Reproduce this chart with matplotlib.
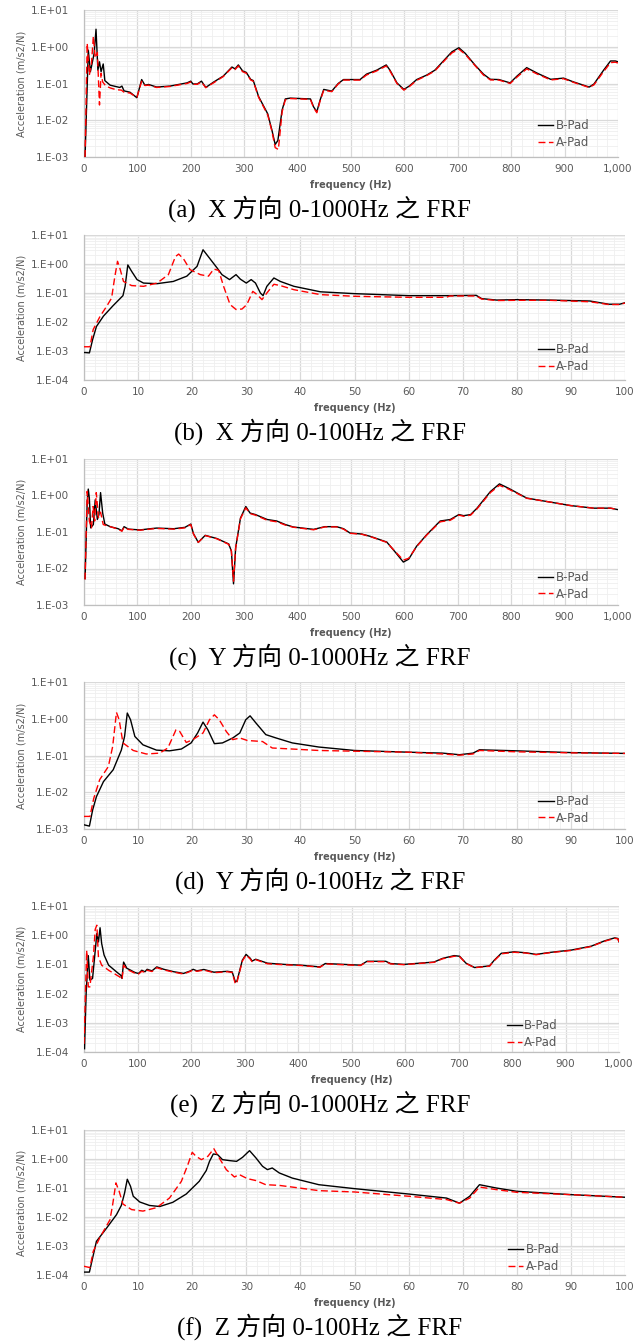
import math

import matplotlib
matplotlib.use("Agg")
import matplotlib.pyplot as plt
from matplotlib.ticker import MultipleLocator, LogLocator, FuncFormatter, NullFormatter

# ---- data (frequency in Hz, acceleration in m/s2/N) ----

# (a) X direction, 0-1000 Hz
a_f_bpad = [2, 8, 12, 19, 22.5, 26, 29, 32, 36, 39,
            49, 67, 71, 75, 86, 99, 108, 114, 121, 136,
            161, 193, 200, 204, 212, 220, 228, 243, 261, 277,
            283, 289, 297, 304, 312, 317, 327, 344, 352, 358,
            363, 371, 377, 386, 424, 430, 436, 442, 449, 464,
            476, 486, 517, 529, 548, 566, 573, 586, 599, 609,
            623, 642, 657, 673, 689, 702, 714, 732, 748, 761,
            777, 798, 811, 829, 849, 874, 898, 917, 946, 955,
            973, 986, 995, 1000]
a_v_bpad = [0.001, 0.81, 0.21, 0.66, 3.0, 0.23, 0.39, 0.21, 0.34, 0.12,
            0.09, 0.078, 0.085, 0.063, 0.058, 0.041, 0.128, 0.09, 0.094, 0.08,
            0.085, 0.104, 0.116, 0.097, 0.097, 0.116, 0.078, 0.11, 0.16, 0.28,
            0.25, 0.32, 0.22, 0.2, 0.13, 0.12, 0.044, 0.015, 0.0053, 0.0022,
            0.0028, 0.019, 0.038, 0.04, 0.038, 0.023, 0.017, 0.035, 0.069, 0.062,
            0.1, 0.128, 0.128, 0.18, 0.23, 0.32, 0.23, 0.104, 0.069, 0.085,
            0.128, 0.17, 0.23, 0.41, 0.73, 0.94, 0.66, 0.32, 0.18, 0.13,
            0.128, 0.104, 0.16, 0.27, 0.19, 0.13, 0.14, 0.11, 0.08, 0.097,
            0.23, 0.41, 0.41, 0.39]
a_f_apad = [2, 6, 10, 14, 17.5, 21, 25, 29, 32, 35,
            41, 50, 60, 70, 75, 86, 99, 108, 114, 121,
            136, 161, 193, 200, 204, 212, 220, 228, 243, 261,
            277, 283, 289, 297, 304, 312, 317, 327, 344, 352,
            358, 364, 371, 377, 386, 424, 430, 436, 442, 449,
            464, 476, 486, 517, 529, 548, 566, 573, 586, 599,
            609, 623, 642, 657, 673, 689, 702, 714, 732, 748,
            761, 777, 798, 811, 829, 849, 874, 898, 917, 946,
            955, 973, 986, 995, 1000]
a_v_apad = [0.001, 1.25, 0.17, 0.35, 1.9, 0.5, 0.7, 0.026, 0.19, 0.11,
            0.085, 0.075, 0.068, 0.066, 0.058, 0.055, 0.042, 0.115, 0.088, 0.09,
            0.078, 0.083, 0.1, 0.11, 0.095, 0.095, 0.11, 0.077, 0.105, 0.155,
            0.27, 0.24, 0.3, 0.21, 0.19, 0.125, 0.115, 0.042, 0.014, 0.005,
            0.0018, 0.0016, 0.017, 0.036, 0.039, 0.037, 0.022, 0.016, 0.033, 0.066,
            0.06, 0.097, 0.124, 0.124, 0.17, 0.22, 0.3, 0.22, 0.1, 0.066,
            0.082, 0.122, 0.165, 0.22, 0.39, 0.68, 0.86, 0.62, 0.31, 0.17,
            0.125, 0.124, 0.1, 0.15, 0.25, 0.18, 0.125, 0.135, 0.107, 0.078,
            0.092, 0.21, 0.37, 0.38, 0.36]

# (b) X direction, 0-100 Hz
b_f_bpad = [0, 1.0, 1.6, 2.3, 3.6, 5.4, 7.2, 7.6, 8.1, 8.8,
            9.8, 11, 13.5, 16.5, 19, 20.9, 22, 22.7, 24.6, 25.5,
            26.9, 28.1, 28.9, 30, 30.9, 31.7, 32.6, 33.1, 33.8, 35.1,
            36.3, 38.8, 43.7, 50, 60, 67, 72.5, 73.5, 76.3, 80,
            86, 93.5, 97, 99, 100]
b_v_bpad = [0.00089, 0.00086, 0.0025, 0.007, 0.016, 0.037, 0.081, 0.17, 0.93, 0.56,
            0.29, 0.22, 0.21, 0.25, 0.38, 0.83, 3.1, 2.1, 0.73, 0.43,
            0.29, 0.43, 0.3, 0.22, 0.29, 0.22, 0.1, 0.081, 0.17, 0.33,
            0.25, 0.17, 0.11, 0.095, 0.081, 0.081, 0.083, 0.064, 0.057, 0.059,
            0.057, 0.053, 0.041, 0.041, 0.046]
b_f_apad = [0, 1.1, 1.7, 3.0, 4.2, 5.1, 5.7, 6.2, 6.7, 7.3,
            8.8, 11, 13.5, 15.6, 16.9, 17.5, 18.4, 19.6, 21.5, 23,
            24, 24.9, 25.8, 27, 28.1, 29.2, 30.1, 31.2, 32, 32.9,
            33.8, 35.1, 36.3, 38.8, 43.7, 50, 60, 67, 67.6, 72.5,
            73.5, 76.3, 80, 86, 93.5, 97, 99, 100]
b_v_apad = [0.0014, 0.0014, 0.0055, 0.016, 0.035, 0.067, 0.37, 1.24, 0.64, 0.25,
            0.18, 0.17, 0.22, 0.43, 1.8, 2.2, 1.5, 0.64, 0.43, 0.38,
            0.67, 0.6, 0.17, 0.04, 0.027, 0.028, 0.04, 0.114, 0.088, 0.059,
            0.1, 0.2, 0.18, 0.13, 0.088, 0.077, 0.071, 0.071, 0.079, 0.079,
            0.062, 0.055, 0.056, 0.056, 0.05, 0.04, 0.04, 0.045]

# (c) Y direction, 0-1000 Hz
c_f_bpad = [2, 6, 8, 10, 12.5, 17.5, 21, 25, 28, 31,
            35, 39, 49, 64, 71, 75, 83, 105, 124, 136,
            168, 189, 200, 205, 214, 227, 249, 271, 276, 280,
            284, 293, 303, 311, 321, 343, 361, 377, 392, 430,
            451, 473, 486, 498, 520, 536, 567, 583, 598, 608,
            623, 642, 667, 686, 702, 711, 724, 736, 761, 778,
            795, 829, 873, 911, 954, 986, 1000]
c_v_bpad = [0.0053, 0.69, 1.5, 0.85, 0.13, 0.16, 0.76, 0.22, 0.3, 1.2,
            0.33, 0.165, 0.14, 0.123, 0.108, 0.14, 0.12, 0.114, 0.123, 0.128,
            0.123, 0.134, 0.165, 0.09, 0.052, 0.081, 0.066, 0.047, 0.03, 0.0038,
            0.037, 0.24, 0.5, 0.33, 0.3, 0.22, 0.2, 0.16, 0.137, 0.118,
            0.14, 0.14, 0.123, 0.094, 0.088, 0.076, 0.053, 0.028, 0.015, 0.018,
            0.041, 0.085, 0.2, 0.22, 0.3, 0.28, 0.3, 0.45, 1.28, 2.08,
            1.58, 0.85, 0.66, 0.53, 0.45, 0.45, 0.41]
c_f_apad = [2, 6, 10, 14, 17, 20, 23, 27, 31, 36,
            42, 49, 64, 71, 75, 83, 105, 124, 136, 168,
            189, 200, 205, 214, 227, 249, 271, 276, 280, 284,
            293, 303, 311, 321, 343, 361, 377, 392, 430, 451,
            473, 486, 498, 520, 536, 567, 583, 598, 608, 623,
            642, 667, 686, 702, 711, 724, 736, 761, 778, 795,
            829, 873, 911, 954, 986, 1000]
c_v_apad = [0.005, 1.3, 0.2, 0.13, 0.5, 0.2, 1.2, 0.25, 0.35, 0.16,
            0.15, 0.14, 0.12, 0.105, 0.135, 0.118, 0.112, 0.12, 0.125, 0.12,
            0.13, 0.16, 0.088, 0.052, 0.08, 0.065, 0.046, 0.03, 0.0045, 0.036,
            0.23, 0.46, 0.32, 0.29, 0.21, 0.19, 0.155, 0.135, 0.115, 0.138,
            0.138, 0.12, 0.092, 0.087, 0.075, 0.052, 0.029, 0.017, 0.019, 0.04,
            0.083, 0.19, 0.21, 0.29, 0.27, 0.29, 0.43, 1.2, 1.9, 1.5,
            0.84, 0.66, 0.53, 0.45, 0.45, 0.41]

# (d) Y direction, 0-100 Hz
d_f_bpad = [0, 1.0, 1.6, 2.3, 3.6, 5.4, 6.9, 7.5, 8.0, 8.6,
            9.4, 10.9, 13.4, 15.8, 18, 19.8, 21, 22, 22.9, 24.1,
            25.6, 27.5, 28.8, 29.9, 30.7, 31.8, 33.6, 35.5, 38.5, 43.4,
            50, 60, 66.3, 69.4, 71.9, 73.1, 80, 90, 100]
d_v_bpad = [0.0013, 0.0012, 0.0033, 0.0076, 0.0195, 0.041, 0.14, 0.33, 1.43, 0.94,
            0.33, 0.195, 0.14, 0.134, 0.15, 0.22, 0.41, 0.81, 0.5, 0.21,
            0.22, 0.3, 0.41, 0.94, 1.2, 0.76, 0.37, 0.3, 0.22, 0.17,
            0.137, 0.123, 0.116, 0.105, 0.116, 0.143, 0.134, 0.12, 0.114]
d_f_apad = [0, 1.1, 1.8, 2.9, 4.5, 5.3, 6.0, 6.5, 7.2, 9.1,
            11.5, 14, 15.5, 17, 17.7, 18.9, 20.1, 22, 23.2, 24.1,
            25, 26.3, 27.5, 28.8, 30.2, 33, 34.8, 38.5, 43.4, 50,
            60, 66.3, 69.4, 71.9, 73.1, 80, 90, 100]
d_v_apad = [0.0022, 0.0022, 0.0068, 0.022, 0.05, 0.176, 1.49, 0.94, 0.22, 0.137,
            0.11, 0.116, 0.16, 0.5, 0.45, 0.226, 0.27, 0.41, 0.94, 1.28,
            0.94, 0.45, 0.27, 0.3, 0.256, 0.24, 0.16, 0.15, 0.137, 0.131,
            0.123, 0.11, 0.102, 0.11, 0.137, 0.126, 0.118, 0.114]

# (e) Z direction, 0-1000 Hz
e_f_bpad = [1, 4, 8, 11, 16, 21, 24, 27, 30, 33,
            37.5, 46, 61, 69, 71, 74, 80, 96, 102, 108,
            114, 118, 127, 136, 149, 168, 186, 199, 204, 211,
            224, 243, 268, 277, 283, 286, 296, 303, 311, 314,
            321, 343, 374, 405, 441, 451, 486, 517, 529, 564,
            573, 598, 654, 670, 692, 702, 714, 730, 758, 767,
            780, 804, 826, 845, 873, 911, 948, 973, 992, 998,
            1000]
e_v_bpad = [0.00013, 0.01, 0.2, 0.029, 0.033, 0.3, 1.14, 0.59, 1.8, 0.52,
            0.21, 0.094, 0.055, 0.042, 0.033, 0.12, 0.074, 0.052, 0.049, 0.063,
            0.056, 0.068, 0.06, 0.082, 0.068, 0.056, 0.049, 0.06, 0.068, 0.06,
            0.067, 0.054, 0.058, 0.055, 0.025, 0.027, 0.14, 0.22, 0.16, 0.13,
            0.15, 0.11, 0.1, 0.094, 0.082, 0.107, 0.1, 0.094, 0.128, 0.128,
            0.107, 0.1, 0.12, 0.16, 0.2, 0.19, 0.11, 0.078, 0.089, 0.14,
            0.24, 0.27, 0.25, 0.22, 0.26, 0.31, 0.42, 0.64, 0.81, 0.77,
            0.59]
e_f_apad = [0, 5, 8, 11, 17.5, 21, 24, 27, 33, 46,
            67, 71, 74, 80, 96, 102, 108, 114, 118, 127,
            136, 149, 168, 186, 199, 204, 211, 224, 243, 268,
            277, 283, 286, 296, 303, 311, 314, 321, 343, 374,
            405, 441, 451, 486, 517, 529, 564, 573, 598, 654,
            670, 692, 702, 714, 730, 758, 767, 780, 804, 826,
            845, 873, 911, 948, 973, 992, 998, 1000]
e_v_apad = [0.00019, 0.3, 0.017, 0.017, 0.18, 1.6, 2.2, 0.18, 0.094, 0.063,
            0.037, 0.03, 0.094, 0.068, 0.049, 0.047, 0.058, 0.053, 0.063, 0.057,
            0.077, 0.065, 0.054, 0.047, 0.058, 0.065, 0.058, 0.064, 0.052, 0.056,
            0.053, 0.021, 0.025, 0.13, 0.21, 0.15, 0.125, 0.145, 0.105, 0.097,
            0.092, 0.08, 0.104, 0.097, 0.092, 0.124, 0.124, 0.104, 0.098, 0.118,
            0.155, 0.19, 0.185, 0.108, 0.077, 0.087, 0.135, 0.23, 0.26, 0.245,
            0.215, 0.255, 0.3, 0.41, 0.62, 0.78, 0.75, 0.58]

# (f) Z direction, 0-100 Hz
f_f_bpad = [0, 1.0, 1.6, 2.3, 4.2, 6.0, 6.9, 7.5, 8.0, 8.6,
            9.1, 10.3, 12.1, 14, 16.4, 18.9, 21.3, 22.6, 23.2, 23.9,
            24.7, 25.6, 26.9, 28.2, 29.3, 30.6, 31.8, 33, 33.9, 34.8,
            36.1, 38.5, 43.4, 50, 60, 67, 69.4, 71.3, 73.1, 76.2,
            80, 90, 100]
f_v_bpad = [0.000126, 0.000126, 0.00039, 0.00145, 0.0042, 0.012, 0.025, 0.067, 0.2, 0.114,
            0.052, 0.033, 0.025, 0.023, 0.032, 0.062, 0.17, 0.4, 0.83, 1.49,
            1.41, 0.95, 0.88, 0.83, 1.14, 1.94, 1.08, 0.56, 0.43, 0.49,
            0.33, 0.22, 0.13, 0.095, 0.062, 0.045, 0.03, 0.052, 0.13, 0.1,
            0.077, 0.059, 0.048]
f_f_apad = [0, 1.1, 1.7, 2.9, 4.8, 5.3, 5.9, 6.5, 7.2, 8.8,
            10.9, 13.4, 15.8, 18, 19.2, 20, 20.7, 21.7, 22.9, 24,
            25, 26.3, 27.8, 28.7, 30.2, 31.8, 33.6, 36.1, 39.8, 43.4,
            50, 60, 67, 69.4, 71.3, 73.1, 76.2, 80, 90, 100]
f_v_apad = [0.0002, 0.00018, 0.00065, 0.0019, 0.008, 0.027, 0.15, 0.077, 0.028, 0.018,
            0.016, 0.021, 0.045, 0.17, 0.64, 1.7, 1.24, 0.95, 1.24, 2.27,
            1.08, 0.43, 0.24, 0.29, 0.21, 0.18, 0.13, 0.123, 0.1, 0.081,
            0.073, 0.052, 0.04, 0.03, 0.045, 0.108, 0.088, 0.071, 0.059, 0.048]

captions = [
    "(a)  X 方向 0-1000Hz 之 FRF",
    "(b)  X 方向 0-100Hz 之 FRF",
    "(c)  Y 方向 0-1000Hz 之 FRF",
    "(d)  Y 方向 0-100Hz 之 FRF",
    "(e)  Z 方向 0-1000Hz 之 FRF",
    "(f)  Z 方向 0-100Hz 之 FRF",
]
x_max = [1000, 100, 1000, 100, 1000, 100]
y_min = [1e-3, 1e-4, 1e-3, 1e-3, 1e-4, 1e-4]

# ---- layout in pixels (left, right, top, bottom) and legend anchors ----
W, H = 635, 1343
boxes = [(84, 618, 10, 157), (84, 625, 235, 380), (84, 618, 459, 605),
         (84, 625, 682, 829), (84, 619, 906, 1052), (84, 625, 1130, 1275)]
legend_xy = [(0.85, 0.055), (0.84, 0.05), (0.85, 0.03),
             (0.84, 0.03), (0.79, 0.022), (0.784, 0.016)]

series = [
    (a_f_bpad, a_v_bpad, a_f_apad, a_v_apad),
    (b_f_bpad, b_v_bpad, b_f_apad, b_v_apad),
    (c_f_bpad, c_v_bpad, c_f_apad, c_v_apad),
    (d_f_bpad, d_v_bpad, d_f_apad, d_v_apad),
    (e_f_bpad, e_v_bpad, e_f_apad, e_v_apad),
    (f_f_bpad, f_v_bpad, f_f_apad, f_v_apad),
]

TEXT = "#595959"
fig = plt.figure(figsize=(W / 100, H / 100), dpi=100)


def decade_label(y, pos):
    exp = int(round(math.log10(y)))
    return f"1.E{exp:+03d}"


for i, (fb, vb, fa, va) in enumerate(series):
    l, r, t, b = boxes[i]
    ax = fig.add_axes([l / W, 1 - b / H, (r - l) / W, (b - t) / H])

    ax.plot(fb, vb, color="black", lw=1.0, label="B-Pad", zorder=3)
    ax.plot(fa, va, color="red", lw=1.0, dashes=(5, 2.5), label="A-Pad", zorder=4)

    ax.set_yscale("log")
    ax.set_ylim(y_min[i], 10)
    ax.set_xlim(0, x_max[i])

    step = x_max[i] / 10
    ax.xaxis.set_major_locator(MultipleLocator(step))
    ax.xaxis.set_minor_locator(MultipleLocator(step / 5))
    ax.xaxis.set_major_formatter(FuncFormatter(lambda x, pos: f"{x:,.0f}"))
    ax.yaxis.set_major_locator(LogLocator(base=10, numticks=10))
    ax.yaxis.set_minor_locator(LogLocator(base=10, subs=range(2, 10), numticks=10))
    ax.yaxis.set_major_formatter(FuncFormatter(decade_label))
    ax.yaxis.set_minor_formatter(NullFormatter())

    ax.grid(which="major", color="#D9D9D9", lw=0.9)
    ax.grid(which="minor", color="#EFEFEF", lw=0.6)
    ax.set_axisbelow(True)

    ax.tick_params(which="both", length=0)
    ax.tick_params(axis="y", pad=11, labelsize=7.5, labelcolor=TEXT)
    ax.tick_params(axis="x", pad=5, labelsize=7.5, labelcolor=TEXT)

    for side in ["top", "right"]:
        ax.spines[side].set_visible(False)
    for side in ["left", "bottom"]:
        ax.spines[side].set_color("#BFBFBF")
        ax.spines[side].set_linewidth(0.9)

    ax.set_ylabel("Acceleration (m/s2/N)", fontsize=7, color=TEXT, labelpad=3)
    fig.text((l + r) / 2 / W, 1 - (b + 28) / H, "frequency (Hz)",
             ha="center", va="center", fontsize=7, fontweight="bold", color=TEXT)

    ax.legend(loc="lower left", bbox_to_anchor=legend_xy[i], frameon=False,
              fontsize=8.5, handlelength=1.3, handletextpad=0.2,
              labelspacing=0.3, borderpad=0, borderaxespad=0, labelcolor=TEXT)

    fig.text(320 / W, 1 - (b + 52) / H, captions[i], ha="center", va="center",
             fontsize=18, family=["Liberation Serif", "Noto Sans CJK TC"])

fig.savefig("out.png", dpi=100)
